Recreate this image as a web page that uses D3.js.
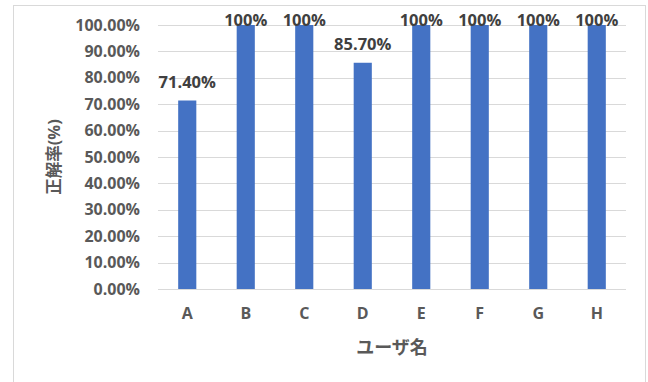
<!DOCTYPE html>
<html>
<head>
<meta charset="utf-8">
<script src="https://cdn.jsdelivr.net/npm/d3@7"></script>
<style>
  body { margin: 0; background: #fff; }
  text { font-family: "Open Sans", "Noto Sans CJK JP", sans-serif; font-weight: bold; fill: #595959; }
</style>
</head>
<body>
<svg id="chart"></svg>
<script>
var users = ["A", "B", "C", "D", "E", "F", "G", "H"]
var rates = [71.4, 100, 100, 85.7, 100, 100, 100, 100]
var rateLabels = ["71.40%", "100%", "100%", "85.70%", "100%", "100%", "100%", "100%"]
var yTicks = [0, 10, 20, 30, 40, 50, 60, 70, 80, 90, 100]

var width = 648, height = 382
var margin = { top: 25, right: 22, bottom: 93, left: 158 }

var svg = d3.select("#chart")
    .attr("width", width)
    .attr("height", height)

// chart frame
svg.append("rect")
    .attr("x", 13.5).attr("y", 5.5)
    .attr("width", 632).attr("height", 390)
    .attr("fill", "none")
    .attr("stroke", "#d9d9d9")

var xScale = d3.scaleBand()
    .domain(users)
    .range([margin.left, width - margin.right])
    .paddingInner(0.69)
    .paddingOuter(0.345)

var yScale = d3.scaleLinear()
    .domain([0, 100])
    .range([height - margin.bottom, margin.top])

// gridlines
svg.append("g")
    .selectAll("line")
    .data(yTicks)
    .enter()
    .append("line")
    .attr("x1", margin.left)
    .attr("x2", width - margin.right)
    .attr("y1", d => Math.round(yScale(d)) + 0.5)
    .attr("y2", d => Math.round(yScale(d)) + 0.5)
    .attr("stroke", "#d9d9d9")
    .attr("stroke-width", 1)

// y axis labels
var yAxis = svg.append("g")
    .attr("transform", "translate(" + margin.left + ",0)")
    .call(d3.axisLeft(yScale).tickValues(yTicks).tickSize(0).tickPadding(18).tickFormat(d => d.toFixed(2) + "%"))
yAxis.select(".domain").remove()
yAxis.selectAll("text").style("font-size", "16px").attr("font-family", null)

// bars
svg.selectAll("rect.bar")
    .data(rates)
    .enter()
    .append("rect")
    .attr("class", "bar")
    .attr("x", (d, i) => xScale(users[i]))
    .attr("y", d => yScale(d))
    .attr("width", xScale.bandwidth())
    .attr("height", d => yScale(0) - yScale(d))
    .attr("fill", "#4472c4")

// data labels (kept inside the plot area like the spreadsheet does)
svg.selectAll("text.val")
    .data(rates)
    .enter()
    .append("text")
    .attr("class", "val")
    .attr("x", (d, i) => xScale(users[i]) + xScale.bandwidth() / 2)
    .attr("y", d => Math.max(yScale(d) - 13, margin.top + 1))
    .attr("text-anchor", "middle")
    .style("font-size", "16.5px")
    .style("fill", "#404040")
    .text((d, i) => rateLabels[i])

// x axis labels
var xAxis = svg.append("g")
    .attr("transform", "translate(0," + (height - margin.bottom) + ")")
    .call(d3.axisBottom(xScale).tickSize(0).tickPadding(19))
xAxis.select(".domain").remove()
xAxis.selectAll("text").style("font-size", "16px").attr("font-family", null)

// axis titles
svg.append("text")
    .attr("x", (margin.left + width - margin.right) / 2)
    .attr("y", 354)
    .attr("text-anchor", "middle")
    .style("font-size", "18px")
    .text("ユーザ名")

svg.append("text")
    .attr("transform", "rotate(-90)")
    .attr("x", -157)
    .attr("y", 60)
    .attr("text-anchor", "middle")
    .style("font-size", "16.5px")
    .text("正解率(%)")
</script>
</body>
</html>
